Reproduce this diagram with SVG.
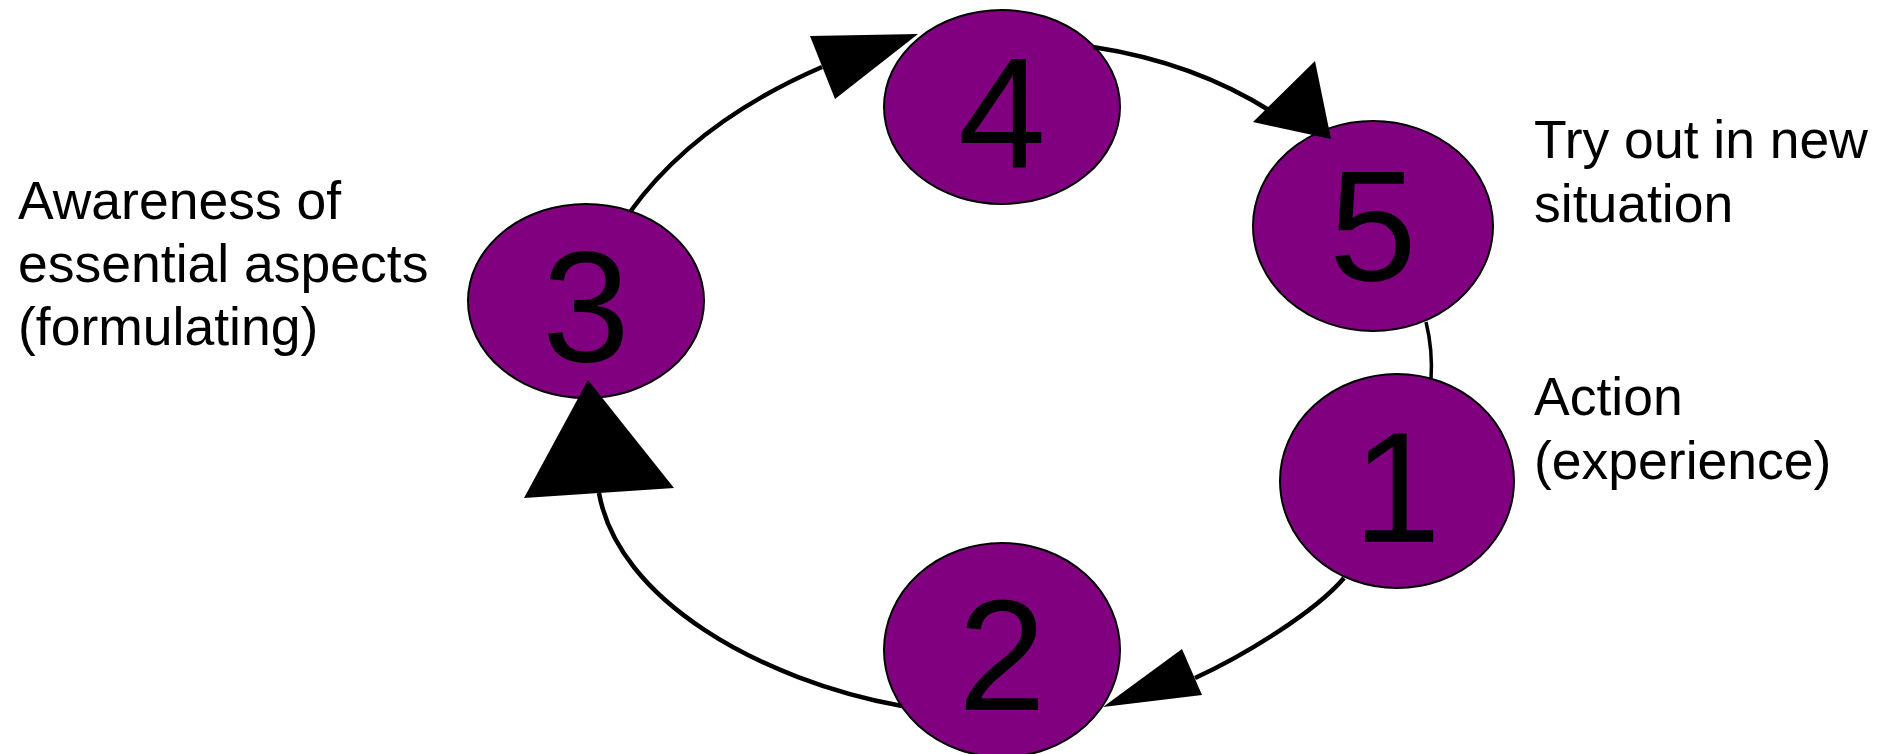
<svg xmlns="http://www.w3.org/2000/svg" width="1884" height="754" viewBox="0 0 1884 754">
<style>
.node{fill:#800080;stroke:#000;stroke-width:2}
.num{font-family:"Liberation Sans",Arial,sans-serif;font-size:158px;fill:#000;text-anchor:middle}
.lbl{font-family:"Liberation Sans",Arial,sans-serif;font-size:53.5px;fill:#000}
.edge{fill:none;stroke:#000;stroke-width:4.5}
.head{fill:#000;stroke:none}
</style>
<rect width="1884" height="754" fill="#fff"/>
<g id="node4"><ellipse class="node" cx="1002" cy="107" rx="118" ry="97"/><text class="num" x="1002" y="168">4</text></g>
<g id="node5"><ellipse class="node" cx="1373" cy="226" rx="120" ry="105"/><text class="num" x="1373" y="280">5</text></g>
<g id="node3"><ellipse class="node" cx="586" cy="301" rx="118" ry="97"/><text class="num" x="586" y="361">3</text></g>
<g id="node1"><ellipse class="node" cx="1397" cy="481" rx="117" ry="107"/><text class="num" x="1397" y="542">1</text></g>
<g id="node2"><ellipse class="node" cx="1002" cy="650" rx="118" ry="107"/><text class="num" x="1002" y="710">2</text></g>
<g id="connectors">
<path class="edge" d="M1344,578 C1315,612 1245,655 1195,678"/>
<polygon class="head" points="1103,707 1182,649 1202,695"/>
<path class="edge" d="M902,706 C760,680 618,600 599,493"/>
<polygon class="head" points="588,380 524,498 674,488"/>
<path class="edge" d="M630,212 Q695,122 822,67"/>
<polygon class="head" points="918,34 810,36 835,99"/>
<path class="edge" d="M1093,47 C1165,58 1225,82 1272,112"/>
<polygon class="head" points="1331,139 1315,61 1253,122"/>
<path class="edge" style="stroke-width:3.5" d="M1426,322 Q1433,350 1431,380"/>
</g>
<g id="labels">
<text class="lbl" x="18" y="219">Awareness of</text>
<text class="lbl" x="18" y="282">essential aspects</text>
<text class="lbl" x="18" y="345">(formulating)</text>
<text class="lbl" x="1534" y="158">Try out in new</text>
<text class="lbl" x="1534" y="222">situation</text>
<text class="lbl" x="1534" y="415">Action</text>
<text class="lbl" x="1534" y="479">(experience)</text>
</g>
</svg>
